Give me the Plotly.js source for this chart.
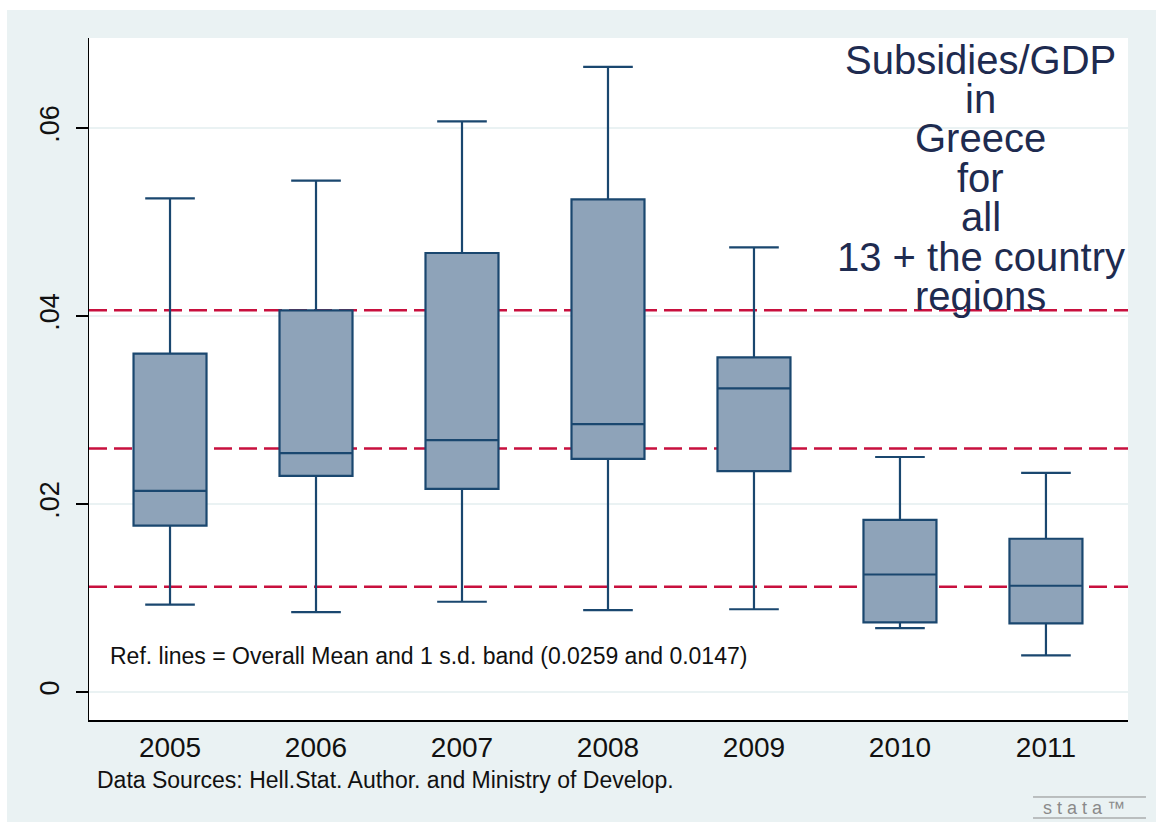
<!DOCTYPE html>
<html>
<head>
<meta charset="utf-8">
<script src="https://cdn.plot.ly/plotly-3.0.1.min.js"></script>
<style>
  html, body { margin: 0; padding: 0; background: #ffffff; }
  #chart { position: absolute; left: 7px; top: 10px; width: 1149px; height: 812px; }
</style>
</head>
<body>
<div id="chart"></div>
<script>
// ---- data ----
const years = ["2005", "2006", "2007", "2008", "2009", "2010", "2011"];
const upperWhisker = [0.0525, 0.0544, 0.0607, 0.0665, 0.0473, 0.0250, 0.0233];
const q3 = [0.0360, 0.0406, 0.0467, 0.0524, 0.0356, 0.0183, 0.0163];
const median = [0.0214, 0.0254, 0.0268, 0.0285, 0.0323, 0.0125, 0.0113];
const q1 = [0.0177, 0.0230, 0.0216, 0.0248, 0.0235, 0.0074, 0.0073];
const lowerWhisker = [0.0093, 0.0085, 0.0096, 0.0087, 0.0088, 0.0068, 0.0039];
const overallMean = 0.0259;
const overallSD = 0.0147;
const refLines = [overallMean - overallSD, overallMean, overallMean + overallSD];
const yTickVals = [0, 0.02, 0.04, 0.06];
const yTickText = ["0", ".02", ".04", ".06"];
const titleLines = ["Subsidies/GDP", "in", "Greece", "for", "all", "13 + the country", "regions"];
const refNote = "Ref. lines = Overall Mean and 1 s.d. band (0.0259 and 0.0147)";
const sourceNote = "Data Sources: Hell.Stat. Author. and Ministry of Develop.";

// ---- styles ----
const navy = "#1a476f";
const boxFill = "#8ea3b9";
const refColor = "#c8103e";
const bg = "#eaf2f3";
const font = "Liberation Sans, Arial, sans-serif";

const trace = {
  type: "box",
  x: years,
  q1: q1,
  median: median,
  q3: q3,
  lowerfence: lowerWhisker,
  upperfence: upperWhisker,
  boxpoints: false,
  width: 0.5,
  whiskerwidth: 0.68,
  fillcolor: boxFill,
  line: { color: navy, width: 2.2 },
  hoverinfo: "skip",
  showlegend: false
};

const shapes = refLines.map(v => ({
  type: "line", xref: "paper", yref: "y",
  x0: 0, x1: 1, y0: v, y1: v,
  line: { color: refColor, width: 2.5, dash: "18px,7px" },
  layer: "below"
}));
// stata logo rules
shapes.push({ type: "line", xref: "paper", yref: "paper", x0: 0.9086, x1: 1.0173, y0: -0.1129, y1: -0.1129, line: { color: "#8a8a8a", width: 1 } });
shapes.push({ type: "line", xref: "paper", yref: "paper", x0: 0.9086, x1: 1.0173, y0: -0.1437, y1: -0.1437, line: { color: "#8a8a8a", width: 1 } });

const titleCenters = [60, 99, 138, 178, 217, 257, 296]; // page px
const annotations = titleLines.map((t, i) => ({
  text: t, xref: "paper", yref: "paper",
  x: 0.8585, y: (720 - titleCenters[i]) / 682,
  xanchor: "center", yanchor: "middle", showarrow: false,
  font: { family: font, size: 40, color: "#1e2b50" }
}));
annotations.push({
  text: refNote, xref: "paper", yref: "paper",
  x: 0.0183, y: (720 - 656) / 682, xanchor: "left", yanchor: "middle", showarrow: false,
  font: { family: font, size: 23, color: "#111111" }
});
annotations.push({
  text: sourceNote, xref: "paper", yref: "paper",
  x: 0.0058, y: (720 - 780) / 682, xanchor: "left", yanchor: "middle", showarrow: false,
  font: { family: font, size: 23, color: "#111111" }
});
annotations.push({
  text: "s t a t a ™", xref: "paper", yref: "paper",
  x: 0.9572, y: -0.129, xanchor: "center", yanchor: "middle", showarrow: false,
  font: { family: font, size: 18, color: "#8a8a8a" }
});

const layout = {
  width: 1149, height: 812,
  margin: { l: 82, r: 28, t: 28, b: 102 },
  paper_bgcolor: bg,
  plot_bgcolor: "#ffffff",
  font: { family: font, color: "#111111" },
  showlegend: false,
  boxmode: "overlay",
  xaxis: {
    type: "category",
    range: [-0.555, 6.562],
    showline: true, linecolor: "#000000", linewidth: 1.5,
    ticks: "", showgrid: false, zeroline: false,
    tickfont: { family: font, size: 28, color: "#111111" },
    ticklabelstandoff: 2
  },
  yaxis: {
    range: [-0.00298, 0.06957],
    tickvals: yTickVals, ticktext: yTickText,
    tickangle: -90,
    ticks: "outside", ticklen: 12, tickwidth: 1.5, tickcolor: "#000000",
    showline: true, linecolor: "#000000", linewidth: 1.5,
    showgrid: true, gridcolor: bg, gridwidth: 1.5,
    zeroline: false,
    tickfont: { family: font, size: 27, color: "#111111" },
    ticklabelstandoff: 6
  },
  shapes: shapes,
  annotations: annotations
};

Plotly.newPlot("chart", [trace], layout, { staticPlot: true, displayModeBar: false });
</script>
</body>
</html>
